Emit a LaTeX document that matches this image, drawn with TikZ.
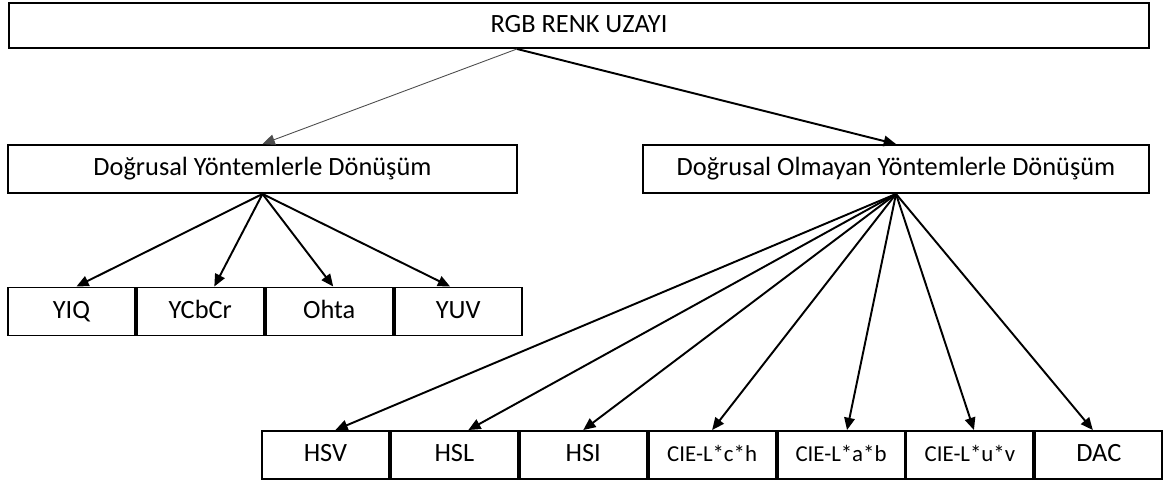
\documentclass[tikz,border=0pt]{standalone}
\usepackage{fontspec}
\setmainfont{Carlito}
\usetikzlibrary{arrows.meta,positioning,calc}

\begin{document}
\begin{tikzpicture}[
  x=0.02cm, y=-0.02cm,
  box/.style={
    draw=black,
    line width=1.1pt,
    inner sep=0pt,
    minimum height=0.96cm,
    text height=1.6ex,
    text depth=0pt,
    align=center,
    font=\fontsize{15}{18}\selectfont
  },
  cell/.style={
    box,
    minimum width=2.54cm
  },
  smallcell/.style={
    cell,
    font=\fontsize{13}{16}\selectfont
  },
  link/.style={
    -{Triangle[length=7pt,width=6pt]},
    line width=1.1pt
  }
]
\useasboundingbox (0,0) rectangle (1166,483);

% -------- Top --------
\node[box, minimum width=22.8cm, minimum height=0.9cm] (rgb) at (579, 25.5) {RGB RENK UZAYI};
\coordinate (split) at ($(rgb.south)+(-1.24cm,0)$);

% -------- Methods --------
\node[box, minimum width=10.18cm] (lin)    at (262.5, 169) {Doğrusal Yöntemlerle Dönüşüm};
\node[box, minimum width=10.12cm] (nonlin) at (896, 169)   {Doğrusal Olmayan Yöntemlerle Dönüşüm};

% -------- Linear spaces --------
\node[cell] (yiq)   at (71.4, 311.5) {YIQ};
\node[cell, right=0pt of yiq]   (ycbcr) {YCbCr};
\node[cell, right=0pt of ycbcr] (ohta)  {Ohta};
\node[cell, right=0pt of ohta]  (yuv)   {YUV};

% -------- Non-linear spaces --------
\node[cell] (hsv) at (325.4, 455) {HSV};
\node[cell, right=0pt of hsv]      (hsl) {HSL};
\node[cell, right=0pt of hsl]      (hsi) {HSI};
\node[smallcell, right=0pt of hsi] (lch) {CIE-L*c*h};
\node[smallcell, right=0pt of lch] (lab) {CIE-L*a*b};
\node[smallcell, right=0pt of lab] (luv) {CIE-L*u*v};
\node[cell, right=0pt of luv]      (dac) {DAC};

% -------- Arrows --------
\draw[link, line width=0.5pt, black!70] (split) -- (lin.north);
\draw[link] (split) -- (nonlin.north);

\draw[link] (lin.south) -- ($(yiq.north)+(5,0)$);
\draw[link] (lin.south) -- ($(ycbcr.north)+(14,0)$);
\draw[link] (lin.south) -- ($(ohta.north)+(4,0)$);
\draw[link] (lin.south) -- ($(yuv.north)+(-8,0)$);

\draw[link] (nonlin.south) -- ($(hsv.north)+(10,0)$);
\draw[link] (nonlin.south) -- ($(hsl.north)+(14,0)$);
\draw[link] (nonlin.south) -- (hsi.north);
\draw[link] (nonlin.south) -- (lch.north);
\draw[link] (nonlin.south) -- ($(lab.north)+(6,0)$);
\draw[link] (nonlin.south) -- ($(luv.north)+(4,0)$);
\draw[link] (nonlin.south) -- ($(dac.north)+(-6,0)$);

\end{tikzpicture}
\end{document}
